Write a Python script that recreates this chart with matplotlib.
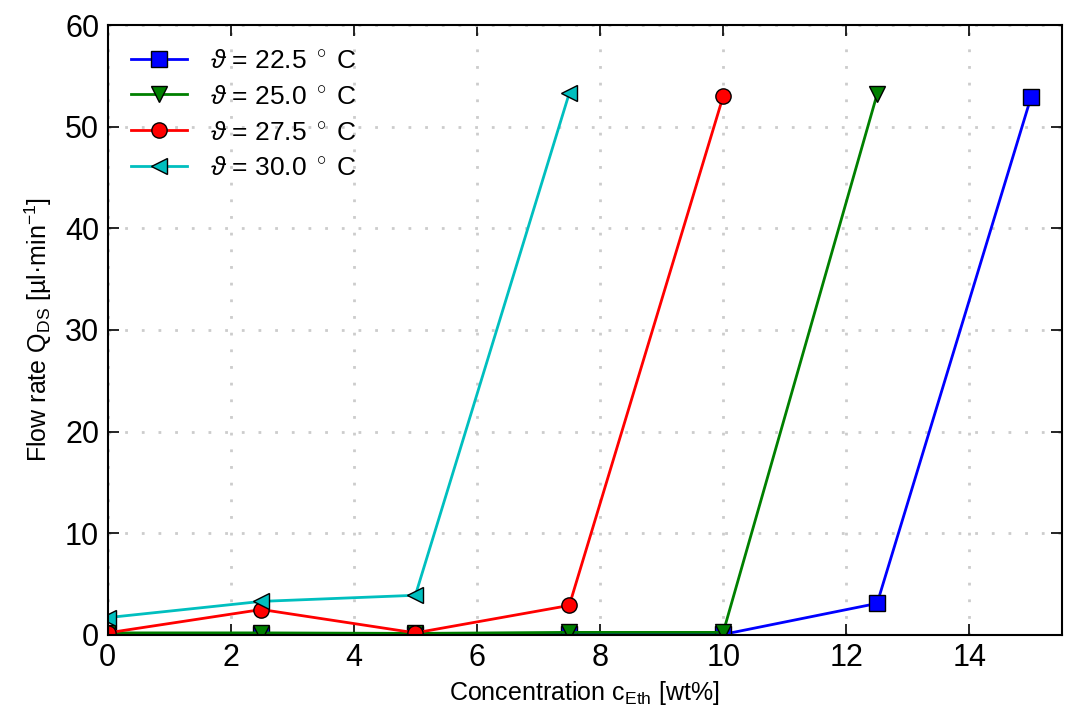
import matplotlib
matplotlib.use('Agg')
from matplotlib import pyplot as plt

plt.rcParams['font.family'] = ['Liberation Sans', 'DejaVu Sans']
plt.rcParams['mathtext.fontset'] = 'custom'
plt.rcParams['mathtext.rm'] = 'Liberation Sans'
plt.rcParams['mathtext.it'] = 'Liberation Sans:italic'
plt.rcParams['xtick.direction'] = 'in'
plt.rcParams['ytick.direction'] = 'in'
plt.rcParams['xtick.top'] = True
plt.rcParams['ytick.right'] = True

conc = [0, 2.5, 5, 7.5, 10, 12.5, 15]
q_225 = [0.05, 0.05, 0.05, 0.05, 0.05, 3.1, 52.9]
q_250 = [0.2, 0.2, 0.15, 0.25, 0.25, 53.2]
q_275 = [0.2, 2.5, 0.2, 2.9, 53.0]
q_300 = [1.7, 3.3, 3.9, 53.3]

labels = ['22.5', '25.0', '27.5', '30.0']
colors = ['b', 'g', 'r', 'c']
markers = ['s', 'v', 'o', '<']

fig, ax = plt.subplots(figsize=(10.65, 7.15), dpi=100)
fig.subplots_adjust(left=0.101, right=0.997, top=0.965, bottom=0.112)

for vals, lab, c, m in zip([q_225, q_250, q_275, q_300], labels, colors, markers):
    ax.plot(conc[:len(vals)], vals, color=c, marker=m, markersize=11, lw=2,
            markeredgecolor='k', markeredgewidth=1,
            label=r'$\vartheta$ = ' + lab + r' $^\circ$ C')

ax.set_xlim(0, 15.5)
ax.set_ylim(0, 60)
ax.grid(True, linestyle=(0, (1, 5)), color='#cccccc', lw=2)
ax.tick_params(labelsize=22, length=8, width=1.2, pad=6)
for s in ax.spines.values():
    s.set_linewidth(1.5)
ax.set_xlabel(r'Concentration c$_\mathrm{Eth}$ [wt%]', fontsize=18, labelpad=4)
ax.set_ylabel(r'Flow rate Q$_\mathrm{DS}$ [µl·min$^\mathrm{-1}$]', fontsize=18, labelpad=8)
ax.legend(loc='upper left', frameon=False, fontsize=19, numpoints=1,
          handlelength=2.1, handletextpad=0.9, borderaxespad=0.5,
          labelspacing=0.45)

fig.savefig('out.png')
